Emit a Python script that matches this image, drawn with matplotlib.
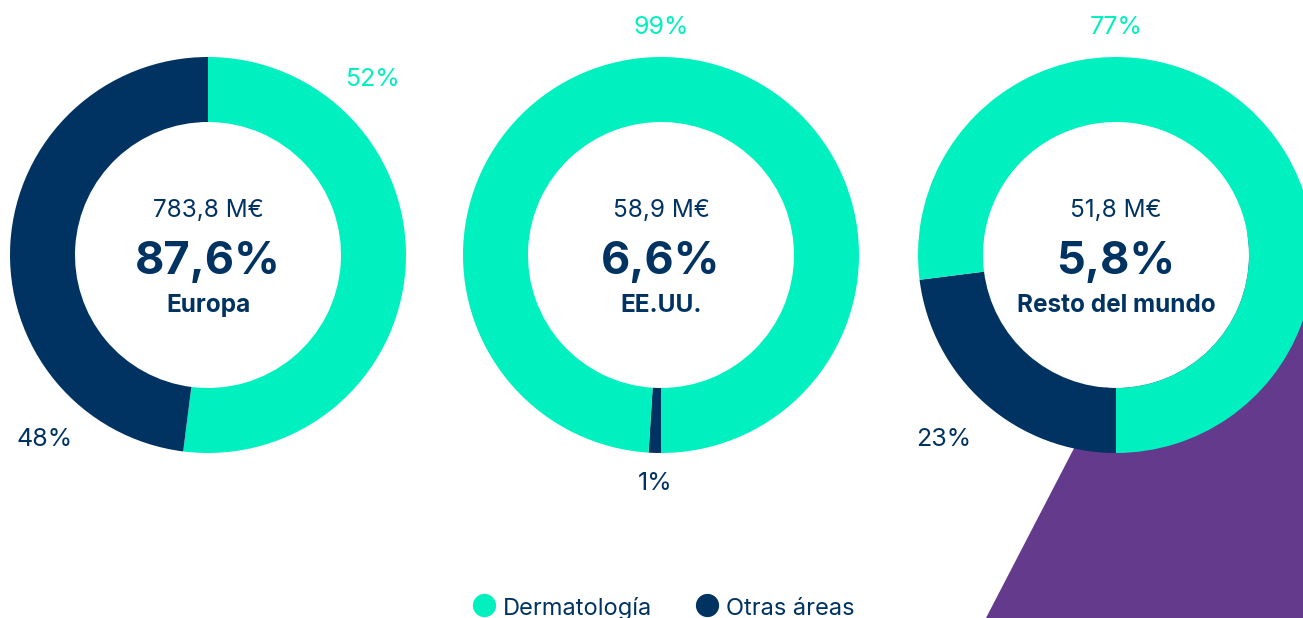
import matplotlib
matplotlib.use("Agg")
import matplotlib.pyplot as plt
from matplotlib.patches import Circle, Polygon

plt.rcParams['font.family'] = ['Inter', 'DejaVu Sans']

# data
regiones = ["Europa", "EE.UU.", "Resto del mundo"]
ventas = ["783,8 M€", "58,9 M€", "51,8 M€"]
cuota = ["87,6%", "6,6%", "5,8%"]
dermatologia = [52, 99, 77]
otras_areas = [48, 1, 23]

VERDE = "#00F0C0"
AZUL = "#003361"
MORADO = "#643A8D"

W, H = 1303, 618
def Y(y):
    # pixel row -> data y (y axis points up)
    return H - y

fig = plt.figure(figsize=(W / 100, H / 100), dpi=100)
ax = fig.add_axes([0, 0, 1, 1])

# layout per donut: centre, start angle, which slice goes first,
# and where the two percent labels sit
centros = [(208, 255), (661, 255), (1116, 255)]
derm_primero = [True, False, False]
pos_derm = [(372, 86), (661, 34), (1116, 34)]
pos_otras = [(45, 446), (655, 490), (944, 446)]
R_OUT, R_IN = 198, 133

# purple shape behind the last donut
ax.add_patch(Polygon([(986, Y(618)), (1182, Y(240)), (1303, Y(230)), (1303, Y(618))],
                     closed=True, facecolor=MORADO, edgecolor="none", zorder=0))

for i, reg in enumerate(regiones):
    cx, cy = centros[i]
    if derm_primero[i]:
        vals, cols, start = [dermatologia[i], otras_areas[i]], [VERDE, AZUL], 90
    else:
        vals, cols, start = [otras_areas[i], dermatologia[i]], [AZUL, VERDE], -90
    ax.pie(vals, colors=cols, startangle=start, counterclock=False,
           radius=R_OUT, center=(cx, Y(cy)),
           wedgeprops=dict(width=R_OUT - R_IN, linewidth=0))
    ax.add_patch(Circle((cx, Y(cy)), R_IN, facecolor="white", edgecolor="none", zorder=0.5))

    ax.text(cx, Y(217), ventas[i], ha="center", va="baseline", fontsize=17.5, color=AZUL)
    ax.text(cx, Y(274), cuota[i], ha="center", va="baseline", fontsize=32.5,
            fontweight="bold", color=AZUL)
    ax.text(cx, Y(312), reg, ha="center", va="baseline", fontsize=17.5,
            fontweight="bold", color=AZUL)

    x, y = pos_derm[i]
    ax.text(x, Y(y), f"{dermatologia[i]}%", ha="center", va="baseline",
            fontsize=18, color=VERDE)
    x, y = pos_otras[i]
    ax.text(x, Y(y), f"{otras_areas[i]}%", ha="center", va="baseline",
            fontsize=18, color=AZUL)

# legend
ley = [("Dermatología", VERDE, 484), ("Otras áreas", AZUL, 707)]
for nombre, col, lx in ley:
    ax.scatter([lx], [Y(605)], s=280, color=col, linewidths=0, zorder=3)
    ax.text(lx + 19, Y(615), nombre, ha="left", va="baseline", fontsize=17, color=AZUL)

ax.set_xlim(0, W)
ax.set_ylim(0, H)
ax.set_aspect("auto")
ax.axis("off")

fig.savefig("out.png", dpi=100, facecolor="white")
